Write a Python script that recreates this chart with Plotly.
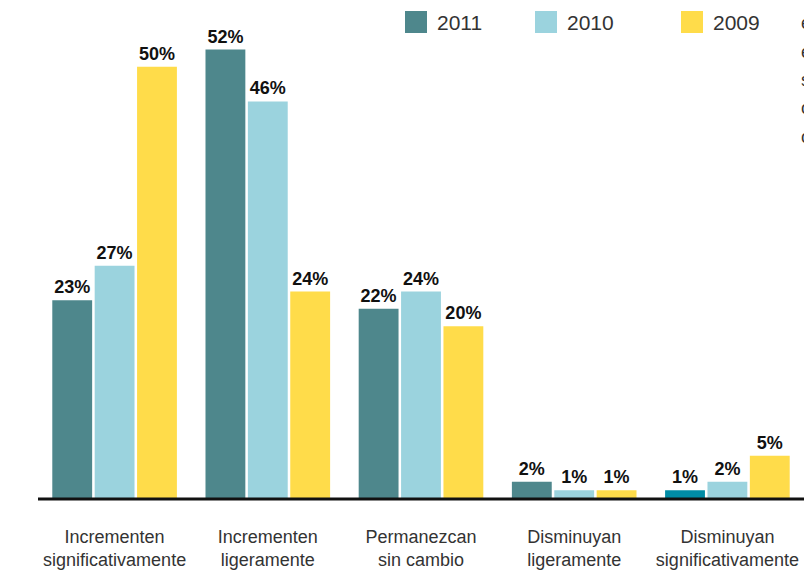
import plotly.graph_objects as go

categories = [
    "Incrementen<br>significativamente",
    "Incrementen<br>ligeramente",
    "Permanezcan<br>sin cambio",
    "Disminuyan<br>ligeramente",
    "Disminuyan<br>significativamente",
]
years = ["2011", "2010", "2009"]
values_2011 = [23, 52, 22, 2, 1]
values_2010 = [27, 46, 24, 1, 2]
values_2009 = [50, 24, 20, 1, 5]
colors = ["#4E878C", "#9BD3DE", "#FFDC4A"]
# the last 2011 bar is drawn in a brighter teal in the source
colors_2011 = ["#4E878C", "#4E878C", "#4E878C", "#4E878C", "#008CA6"]

# first letters of the neighbouring text column, cut off by the right edge
edge_letters = ["e", "e", "s", "c", "c"]
edge_letter_y = [23, 52, 80, 108, 137]

series = [values_2011, values_2010, values_2009]
bar_colors = [colors_2011, colors[1], colors[2]]

# plot area in page pixels (used for the hand-made legend)
FIG_W, FIG_H = 804, 571
L, T, W, H = 38, 15, 766, 484


def px(x):
    return (x - L) / W


def py(y):
    return (T + H - y) / H


fig = go.Figure()
for name, vals, col in zip(years, series, bar_colors):
    fig.add_trace(go.Bar(
        name=name,
        x=categories,
        y=vals,
        text=[f"{v}%" for v in vals],
        textposition="outside",
        textfont=dict(size=18, color="#111111", family="Liberation Sans, Arial, sans-serif",
                      weight="bold"),
        marker=dict(color=col, line=dict(width=0)),
        cliponaxis=False,
        showlegend=False,
    ))

# baseline running out to the right edge of the page
fig.add_shape(type="line", xref="paper", yref="paper",
              x0=0, x1=1, y0=0, y1=0,
              line=dict(color="#111111", width=3))

# legend drawn by hand so the swatches are large like the original
legend_x = [405, 535, 681]
for name, col, lx in zip(years, colors, legend_x):
    fig.add_shape(type="rect", xref="paper", yref="paper",
                  x0=px(lx), x1=px(lx + 22), y0=py(33), y1=py(11),
                  fillcolor=col, line=dict(width=0))
    fig.add_annotation(xref="paper", yref="paper",
                       x=px(lx + 30), y=py(22),
                       xanchor="left", yanchor="middle", showarrow=False,
                       text=name, font=dict(size=21, color="#333333"))

for letter, ly in zip(edge_letters, edge_letter_y):
    fig.add_annotation(xref="paper", yref="paper", x=px(799), y=py(ly),
                       xanchor="left", yanchor="middle", showarrow=False,
                       text=letter, font=dict(size=18, color="#333333"))

fig.update_layout(
    width=FIG_W,
    height=FIG_H,
    margin=dict(l=L, r=FIG_W - L - W, t=T, b=FIG_H - T - H, autoexpand=False),
    barmode="group",
    bargap=0.17,
    bargroupgap=0.06,
    plot_bgcolor="white",
    paper_bgcolor="white",
    font=dict(family="Liberation Sans, Arial, sans-serif", size=18, color="#333333"),
    showlegend=False,
)
fig.update_xaxes(
    showline=False,
    ticks="", ticklabelstandoff=25, automargin=False,
    tickfont=dict(size=18, color="#333333"),
    showgrid=False,
)
fig.update_yaxes(range=[0, 56], visible=False, showgrid=False, automargin=False)

# drop the default body margin so the figure fills the window exactly
fig.write_html(
    "out.html",
    config={"displayModeBar": False},
    post_script="document.body.style.margin='0';"
                "document.documentElement.style.overflow='hidden';",
)
